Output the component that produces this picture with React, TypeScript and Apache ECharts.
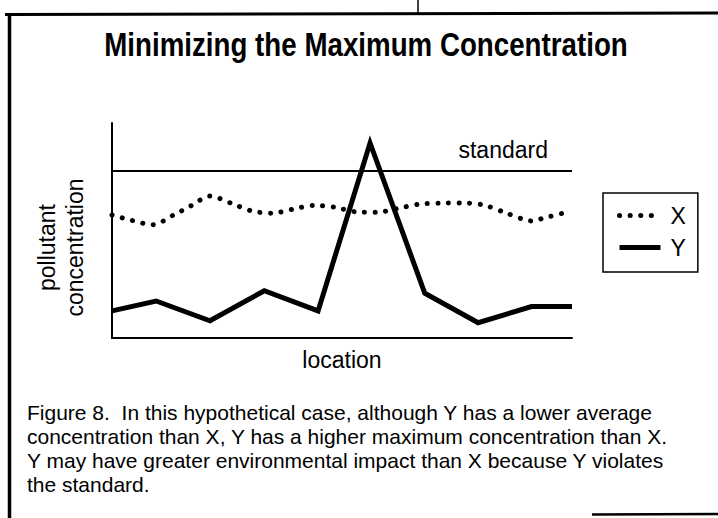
import React, { useEffect, useRef } from "react";
import * as echarts from "echarts";

const FONT = "'Liberation Sans', Arial, Helvetica, sans-serif";

const titleText = "Minimizing the Maximum Concentration";
const xAxisName = "location";
const yAxisName = "pollutant\nconcentration";
const standardLabel = "standard";
const standardValue = 78;
const seriesNames = ["X", "Y"];

// Series X (dotted): location vs concentration
const locX = [0, 4.3, 8.9, 13.3, 17.2, 21.3, 25.9, 30.2, 34.8, 39.3, 43.9, 48.5, 53.0, 57.6, 62.2, 66.7, 71.3, 76.1, 80.7, 85.0, 89.3, 91.5, 93.7, 98.5];
const concX = [57.2, 54.7, 52.7, 57.1, 61.5, 66.0, 62.7, 59.2, 58.0, 59.9, 61.7, 60.8, 58.7, 58.5, 60.3, 62.2, 62.7, 62.8, 61.9, 58.7, 55.3, 54.4, 55.7, 58.3];

// Series Y (solid)
const locY = [0, 9.6, 21.3, 33.1, 44.8, 56.1, 68.0, 79.6, 91.2, 100];
const concY = [12.6, 17.2, 8.0, 22.0, 12.6, 90.7, 20.8, 7.1, 14.6, 14.6];

const captionLines = [
  "Figure 8.  In this hypothetical case, although Y has a lower average",
  "concentration than X, Y has a higher maximum concentration than X.",
  "Y may have greater environmental impact than X because Y violates",
  "the standard.",
];

const dottedStyle = { color: "#000", width: 5, type: [0.1, 10.5], cap: "round" };
const solidStyle = { color: "#000", width: 5, join: "miter" };

export default function App() {
  const ref = useRef<HTMLDivElement>(null);
  useEffect(() => {
    if (!ref.current) return;
    const chart = echarts.init(ref.current, null, { renderer: "svg" });
    const option: any = {
      animation: false,
      backgroundColor: "#ffffff",
      grid: { left: 112, top: 123, width: 460, height: 215 },
      xAxis: {
        type: "value",
        min: 0,
        max: 100,
        axisLine: { show: true, lineStyle: { color: "#000", width: 2 } },
        axisTick: { show: false },
        axisLabel: { show: false },
        splitLine: { show: false },
        name: xAxisName,
        nameLocation: "middle",
        nameGap: 10,
        nameTextStyle: { fontSize: 23, color: "#000", fontFamily: FONT, verticalAlign: "top" },
      },
      yAxis: {
        type: "value",
        min: 0,
        max: 100,
        axisLine: { show: true, lineStyle: { color: "#000", width: 2 } },
        axisTick: { show: false },
        axisLabel: { show: false },
        splitLine: { show: false },
        name: yAxisName,
        nameLocation: "middle",
        nameRotate: 90,
        nameGap: 23,
        nameTextStyle: {
          fontSize: 23,
          lineHeight: 28,
          color: "#000",
          fontFamily: FONT,
          padding: [0, 34, 0, 0],
        },
      },
      legend: {
        orient: "vertical",
        left: 603,
        top: 193,
        padding: [11, 12, 13, 14],
        itemWidth: 41,
        itemHeight: 20,
        itemGap: 9,
        borderColor: "#000",
        borderWidth: 1.5,
        textStyle: { fontSize: 23, color: "#000", fontFamily: FONT, padding: [0, 0, 0, 5] },
        itemStyle: { opacity: 0 },
        data: [
          { name: seriesNames[0], lineStyle: dottedStyle, itemStyle: { opacity: 0 } },
          { name: seriesNames[1], lineStyle: solidStyle, itemStyle: { opacity: 0 } },
        ],
      },
      graphic: [
        { type: "line", shape: { x1: 5, y1: 14.5, x2: 718, y2: 13 }, style: { stroke: "#000", lineWidth: 3 } },
        { type: "line", shape: { x1: 9.5, y1: 13, x2: 9.5, y2: 518 }, style: { stroke: "#000", lineWidth: 3.5 } },
        { type: "line", shape: { x1: 418, y1: 0, x2: 418, y2: 13 }, style: { stroke: "#000", lineWidth: 1.5 } },
        { type: "line", shape: { x1: 592, y1: 514.5, x2: 718, y2: 514 }, style: { stroke: "#000", lineWidth: 2.5 } },
        {
          type: "text",
          x: 366,
          y: 44,
          scaleX: 0.84,
          style: {
            text: titleText,
            fontSize: 33,
            fontWeight: "bold",
            fontFamily: FONT,
            fill: "#000",
            textAlign: "center",
            textVerticalAlign: "middle",
          },
        },
        {
          type: "text",
          left: 27,
          top: 400,
          style: {
            text: captionLines.join("\n"),
            fontSize: 21,
            lineHeight: 24,
            fontFamily: FONT,
            fill: "#000",
          },
        },
      ],
      series: [
        {
          name: seriesNames[0],
          type: "line",
          data: locX.map((x, i) => [x, concX[i]]),
          smooth: 0.3,
          symbol: "none",
          lineStyle: dottedStyle,
          itemStyle: { color: "#000" },
        },
        {
          name: seriesNames[1],
          type: "line",
          data: locY.map((x, i) => [x, concY[i]]),
          symbol: "none",
          lineStyle: solidStyle,
          itemStyle: { color: "#000" },
          markLine: {
            silent: true,
            symbol: "none",
            data: [{ yAxis: standardValue }],
            lineStyle: { color: "#000", width: 2, type: "solid" },
            label: {
              show: true,
              position: "insideEndTop",
              formatter: standardLabel,
              fontSize: 23,
              color: "#000",
              fontFamily: FONT,
              padding: [0, 19, 4, 0],
            },
          },
        },
      ],
    };
    chart.setOption(option);
    return () => chart.dispose();
  }, []);
  return (
    <div
      ref={ref}
      style={{ position: "fixed", left: 0, top: 0, width: 718, height: 518, background: "#fff" }}
    />
  );
}
